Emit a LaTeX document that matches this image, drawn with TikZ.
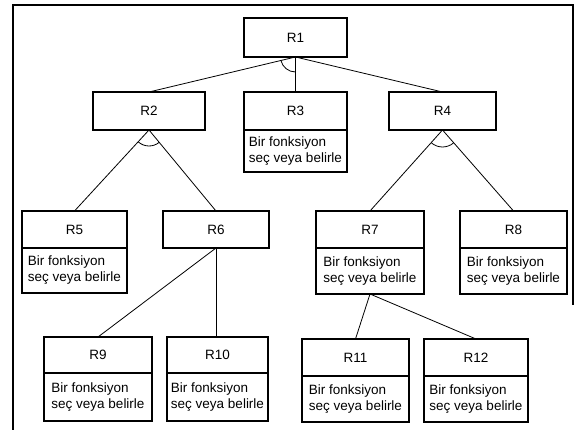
\documentclass[tikz,border=0pt]{standalone}
\usepackage{fontspec}
\setmainfont{Liberation Sans}
\usetikzlibrary{calc}
\begin{document}
\begin{tikzpicture}[x=1pt,y=1pt,
  hdr/.style={draw, line width=1.8pt, inner sep=0pt, outer sep=0pt,
    font=\fontsize{13.5}{16}\selectfont},
  bdy/.style={draw, line width=1.8pt, inner sep=0pt, outer sep=0pt,
    align=left, anchor=north, font=\fontsize{13.5}{16}\selectfont},
  conn/.style={line width=0.8pt},
  frame/.style={line width=2.6pt}]
\useasboundingbox (0,0) rectangle (577,430);

% outer frame
\draw[frame] (13,0) -- (13,425) -- (573,425) -- (573,125);

% level 0
\node[hdr, minimum width=103pt, minimum height=39pt] (R1) at (295.5,392.5) {R1};

% level 1
\node[hdr, minimum width=112pt, minimum height=38pt] (R2) at (149,319) {R2};
\node[hdr, minimum width=103pt, minimum height=38pt] (R3) at (295.5,319) {R3};
\node[bdy, minimum width=103pt, minimum height=42pt] (R3b) at (R3.south) {Bir fonksiyon\\seç veya belirle};
\node[hdr, minimum width=107pt, minimum height=38pt] (R4) at (442.5,319) {R4};

% level 2
\node[hdr, minimum width=105pt, minimum height=37pt] (R5) at (74.5,200.5) {R5};
\node[bdy, minimum width=105pt, minimum height=45pt] (R5b) at (R5.south) {Bir fonksiyon\\seç veya belirle};
\node[hdr, minimum width=106pt, minimum height=37pt] (R6) at (216,200.5) {R6};
\node[hdr, minimum width=108pt, minimum height=37pt] (R7) at (370,200.5) {R7};
\node[bdy, minimum width=108pt, minimum height=46pt] (R7b) at (R7.south) {Bir fonksiyon\\seç veya belirle};
\node[hdr, minimum width=107pt, minimum height=37pt] (R8) at (513.5,200.5) {R8};
\node[bdy, minimum width=107pt, minimum height=46pt] (R8b) at (R8.south) {Bir fonksiyon\\seç veya belirle};

% level 3
\node[hdr, minimum width=108pt, minimum height=36pt] (R9) at (98,75) {R9};
\node[bdy, minimum width=108pt, minimum height=48pt] (R9b) at (R9.south) {Bir fonksiyon\\seç veya belirle};
\node[hdr, minimum width=101pt, minimum height=36pt] (R10) at (217.5,75) {R10};
\node[bdy, minimum width=101pt, minimum height=48pt] (R10b) at (R10.south) {Bir fonksiyon\\seç veya belirle};
\node[hdr, minimum width=107pt, minimum height=37pt] (R11) at (355.5,72.5) {R11};
\node[bdy, minimum width=107pt, minimum height=46pt] (R11b) at (R11.south) {Bir fonksiyon\\seç veya belirle};
\node[hdr, minimum width=104pt, minimum height=37pt] (R12) at (476,72.5) {R12};
\node[bdy, minimum width=104pt, minimum height=46pt] (R12b) at (R12.south) {Bir fonksiyon\\seç veya belirle};

% connectors
\draw[conn] (R1.south) -- (R2.north);
\draw[conn] (R1.south) -- (R3.north);
\draw[conn] (R1.south) -- (R4.north);
\draw[conn] (R2.south) -- (R5.north);
\draw[conn] (R2.south) -- (R6.north);
\draw[conn] (R4.south) -- (R7.north);
\draw[conn] (R4.south) -- (R8.north);
\draw[conn] (R6.south) -- (R9.north);
\draw[conn] (R6.south) -- (R6.south |- R10.north);
\draw[conn] (R7b.south) -- (R11.north);
\draw[conn] (R7b.south) -- (R12.north);

% AND arcs
\draw[conn] let \p1=($(R2.north)-(R1.south)$), \n1={atan2(\y1,\x1)} in
  ($(R1.south)+(\n1:15)$) arc[start angle=\n1, end angle=-90, radius=15];
\draw[conn] let \p1=($(R5.north)-(R2.south)$), \p2=($(R6.north)-(R2.south)$),
  \n1={atan2(\y1,\x1)}, \n2={atan2(\y2,\x2)} in
  ($(R2.south)+(\n1:16)$) arc[start angle=\n1, end angle=\n2, radius=16];
\draw[conn] let \p1=($(R7.north)-(R4.south)$), \p2=($(R8.north)-(R4.south)$),
  \n1={atan2(\y1,\x1)}, \n2={atan2(\y2,\x2)} in
  ($(R4.south)+(\n1:17)$) arc[start angle=\n1, end angle=\n2, radius=17];
\end{tikzpicture}
\end{document}
